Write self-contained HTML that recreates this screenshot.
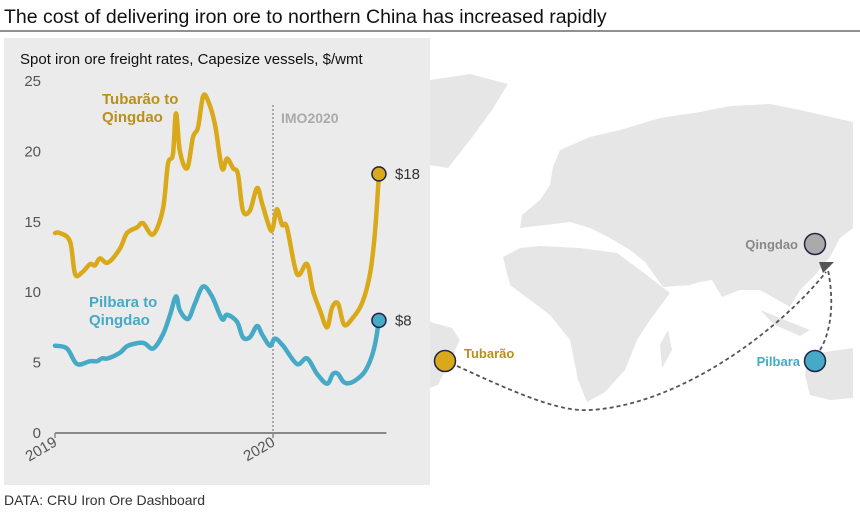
<!DOCTYPE html>
<html><head><meta charset="utf-8"><style>
body{margin:0;background:#fff;width:860px;height:512px;overflow:hidden;font-family:"Liberation Sans",sans-serif}
</style></head><body>
<svg width="860" height="512" viewBox="0 0 860 512" font-family="Liberation Sans, sans-serif">
<text x="4" y="23" font-size="19.5" fill="#111">The cost of delivering iron ore to northern China has increased rapidly</text>
<line x1="0" y1="31" x2="860" y2="31" stroke="#222" stroke-width="1"/>
<g fill="#e6e6e6">
<polygon points="430,80 470,74 508,84 492,110 470,140 448,168 430,165"/>
<polygon points="553,167 560,150 590,137 620,130 660,118 700,112 730,106 770,104 800,110 853,122 853,228 840,238 830,257 815,275 800,290 790,307 778,300 760,290 740,290 722,297 712,280 700,282 690,285 663,287 645,262 630,250 610,238 590,228 570,222 545,225 520,228 522,215 540,200 550,185"/>
<polygon points="503,257 520,248 540,246 580,248 617,253 640,270 670,293 650,320 637,340 625,370 605,392 587,402 578,380 570,340 550,315 530,300 510,285"/>
<polygon points="807,360 825,352 853,348 853,398 830,400 810,395 805,375"/>
<polygon points="430,322 452,328 460,340 450,360 438,385 430,388"/>
<polygon points="760,310 790,322 810,330 800,336 775,325"/>
<polygon points="660,345 668,330 672,350 662,368"/>
</g>
<g fill="none" stroke="#555" stroke-width="1.8" stroke-dasharray="4,3">
<path d="M457,366 C520,395 560,412 590,410 C680,405 780,330 826,272"/>
<path d="M820,350 C832,330 834,300 828,270"/>
</g>
<polygon points="819,262 834,262 823,273" fill="#555"/>
<circle cx="445" cy="361" r="10.5" fill="#d9a91a" stroke="#222244" stroke-width="1.5"/>
<text x="464" y="358" font-size="13" font-weight="bold" fill="#b8901a">Tubarão</text>
<circle cx="815" cy="361" r="10.5" fill="#46a9c6" stroke="#222244" stroke-width="1.5"/>
<text x="800" y="366" font-size="13" font-weight="bold" fill="#46a9c6" text-anchor="end">Pilbara</text>
<circle cx="815" cy="244" r="10.5" fill="#aaa" stroke="#222244" stroke-width="1.5"/>
<text x="798" y="249" font-size="13" font-weight="bold" fill="#888" text-anchor="end">Qingdao</text>

<rect x="4" y="38" width="426" height="447" fill="#ebebeb"/>
<text x="20" y="64" font-size="15" fill="#111">Spot iron ore freight rates, Capesize vessels, $/wmt</text>
<g id="chart"></g>
<text x="4" y="505" font-size="14" fill="#333">DATA: CRU Iron Ore Dashboard</text>
</svg>
<script>
const yTicks=[0,5,10,15,20,25];
const xTickYears=[2019,2020];
const xTickLabels=["2019","2020"];
const imoDate=2020.0;
const tubOffsets=[0,0.023,0.069,0.092,0.124,0.161,0.183,0.206,0.243,0.298,0.33,0.376,0.404,0.45,0.495,0.518,0.541,0.555,0.573,0.606,0.633,0.656,0.679,0.702,0.734,0.766,0.789,0.817,0.839,0.862,0.894,0.927,0.95,0.986,1.0,1.018,1.041,1.064,1.11,1.156,1.183,1.216,1.248,1.271,1.298,1.326,1.362,1.408,1.445,1.468,1.486];
const tubValues=[14.2,14.2,13.6,11.3,11.4,12.0,11.9,12.4,12.1,13.1,14.2,14.6,14.9,14.1,15.9,19.1,19.8,22.7,20.0,18.8,21.0,21.7,23.9,23.6,21.9,18.8,19.5,18.8,18.4,15.8,15.8,17.4,16.3,14.5,14.6,15.9,14.8,14.6,11.3,12.0,10.1,8.7,7.5,8.9,9.2,7.7,8.1,9.2,11.3,14.3,18.4];
const pilOffsets=[0,0.055,0.101,0.161,0.193,0.216,0.243,0.298,0.335,0.404,0.45,0.495,0.528,0.555,0.573,0.61,0.642,0.679,0.72,0.766,0.789,0.835,0.862,0.894,0.927,0.95,0.986,1.009,1.046,1.11,1.156,1.202,1.248,1.275,1.298,1.326,1.362,1.413,1.445,1.468,1.486];
const pilValues=[6.2,6.0,4.9,5.1,5.1,5.3,5.3,5.7,6.2,6.4,6.0,7.0,8.4,9.7,8.7,8.1,9.2,10.4,9.7,8.1,8.4,7.9,6.8,6.8,7.6,7.0,6.2,6.7,6.2,4.9,5.3,4.2,3.5,4.2,4.2,3.6,3.6,4.2,5.1,6.3,8.0];
const NS='http://www.w3.org/2000/svg';
const g=document.getElementById('chart');
const x0=55,pxYear=218,y0=433,pxUnit=14.08;
function xs(t){return x0+(t-2019)*pxYear;}
function ys(v){return y0-v*pxUnit;}
function mk(tag,attrs){const e=document.createElementNS(NS,tag);for(const k in attrs)e.setAttribute(k,attrs[k]);g.appendChild(e);return e;}
yTicks.forEach(v=>{const t=mk('text',{x:41,y:ys(v)+5,'font-size':15,fill:'#555','text-anchor':'end'});t.textContent=v;

});
const ax=mk('line',{x1:xs(2019),y1:y0,x2:xs(2020.52),y2:y0,stroke:'#888','stroke-width':2});


xTickYears.forEach((yr,i)=>{const tk=mk('line',{x1:xs(yr),y1:y0,x2:xs(yr),y2:y0+5,stroke:'#888','stroke-width':1.5});


const t=mk('text',{x:xs(yr)+3,y:y0+12,'font-size':15,fill:'#555','text-anchor':'end',transform:`rotate(-30 ${xs(yr)+3} ${y0+12})`});t.textContent=xTickLabels[i];

});
const imo=mk('line',{x1:xs(imoDate),y1:105,x2:xs(imoDate),y2:y0,stroke:'#aaa','stroke-width':2,'stroke-dasharray':'2,2'});


const imt=mk('text',{x:xs(imoDate)+8,y:123,'font-size':14,'font-weight':'bold',fill:'#aaa'});imt.textContent='IMO2020';


function smooth(pts){let d='M'+pts[0][0]+','+pts[0][1];for(let i=0;i<pts.length-1;i++){const p0=pts[i-1]||pts[i],p1=pts[i],p2=pts[i+1],p3=pts[i+2]||p2;
const c1=[p1[0]+(p2[0]-p0[0])/6,p1[1]+(p2[1]-p0[1])/6],c2=[p2[0]-(p3[0]-p1[0])/6,p2[1]-(p3[1]-p1[1])/6];
d+=` C${c1[0]},${c1[1]} ${c2[0]},${c2[1]} ${p2[0]},${p2[1]}`;}return d;}
function line(off,v,color,name){const pts=v.map((val,i)=>[xs(2019+off[i]),ys(val)]);
const p=mk('path',{d:smooth(pts),fill:'none',stroke:color,'stroke-width':4.5,'stroke-linejoin':'round','stroke-linecap':'round'});


const n=v.length-1;const c=mk('circle',{cx:pts[n][0],cy:pts[n][1],r:7,fill:color,stroke:'#222244','stroke-width':1.5});


const t=mk('text',{x:pts[n][0]+16,y:pts[n][1]+5,'font-size':15,fill:'#333'});t.textContent='$'+Math.round(v[n]);

}
line(tubOffsets,tubValues,'#d9a91a','tubarao-line');
line(pilOffsets,pilValues,'#46a9c6','pilbara-line');
function lab(txt,x,y,color,name){const t=mk('text',{x:x,y:y,'font-size':15,'font-weight':'bold',fill:color});t.textContent=txt;

}
lab('Tubarão to',102,104,'#b8901a','tubarao-series-label');
lab('Qingdao',102,122,'#b8901a','tubarao-series-label-2');
lab('Pilbara to',89,307,'#46a9c6','pilbara-series-label');
lab('Qingdao',89,325,'#46a9c6','pilbara-series-label-2');
</script>
</body></html>
